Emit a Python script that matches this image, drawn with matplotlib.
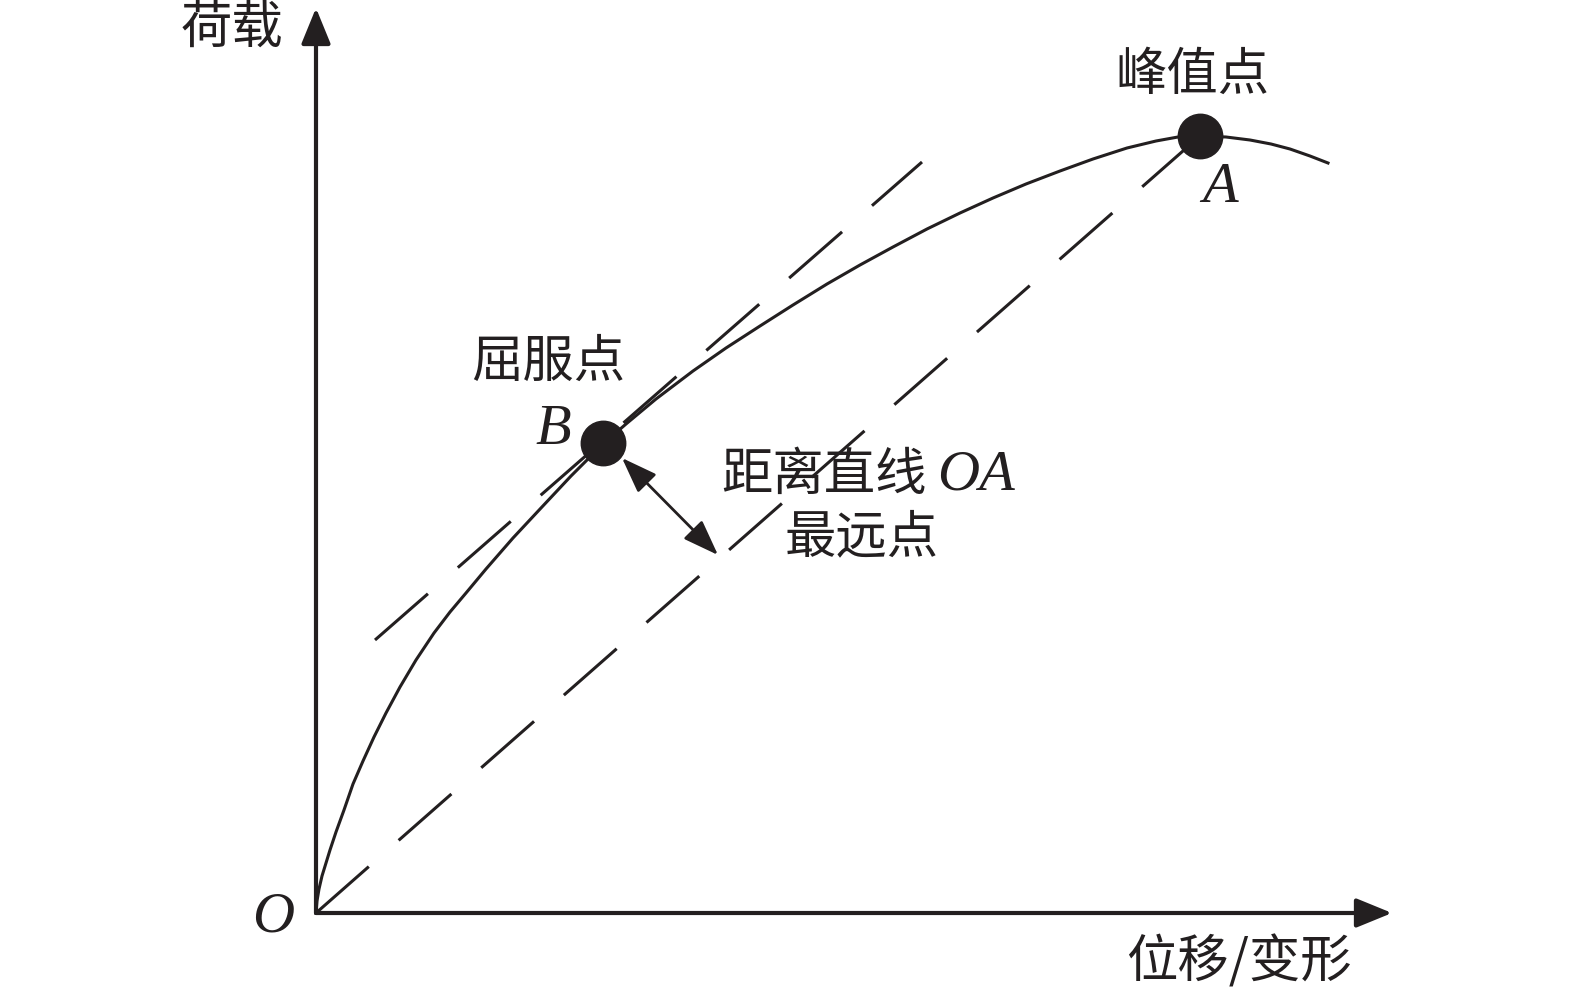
import matplotlib.pyplot as plt

plt.rcParams['font.family'] = ['Noto Sans CJK SC', 'DejaVu Sans']

# load-displacement curve (origin at O, y up, pixel units)
curve_x = [0, 1, 3, 6, 10, 14, 20, 28, 37, 47, 58, 70, 84, 100, 118, 134, 150, 170,
           197, 225, 255, 287, 310, 340, 377, 410, 444, 477, 511, 544, 577, 611, 644,
           677, 710, 744, 777, 811, 840, 862, 884, 910, 934, 955, 974, 994, 1012]
curve_y = [0, 12, 24, 37, 50, 63, 81, 103, 129, 152, 176, 200, 226, 253, 280, 301, 320, 344,
           375, 405, 437, 469, 489, 514, 542, 565, 587, 608, 629, 648, 666, 684, 700,
           715, 729, 742, 754, 765, 772, 776, 777, 776, 773, 769, 764, 757, 750]

pt_A = (884, 777)   # peak point
pt_B = (287, 470)   # yield point
line_OA = ([0, 884], [0, 777])
tangent_B = ([59, 606], [273, 751])
arrow_ends = ((306, 455), (402, 358))

INK = '#231f20'

fig = plt.figure(figsize=(15.75, 9.96), dpi=100)
ax = fig.add_axes([0, 0, 1, 1])
ax.set_xlim(-316, 1259)
ax.set_ylim(-83, 913)
ax.axis('off')

# axes with arrows
head = dict(arrowstyle='-|>,head_length=2.2,head_width=0.9', lw=3, color=INK,
            shrinkA=0, shrinkB=0, mutation_scale=10)
ax.annotate('', xy=(0, 905), xytext=(0, 0), arrowprops=head)
ax.annotate('', xy=(1076, 0), xytext=(0, 0), arrowprops=head)

ax.plot(curve_x, curve_y, color=INK, lw=2.2, solid_joinstyle='round')
ax.plot(*line_OA, color=INK, lw=2.2, dashes=(23, 13))
ax.plot(*tangent_B, color=INK, lw=2.2, dashes=(23, 13))

ax.plot(*pt_A, 'o', color=INK, ms=32, zorder=5)
ax.plot(*pt_B, 'o', color=INK, ms=32, zorder=5)

ax.annotate('', xy=arrow_ends[0], xytext=arrow_ends[1],
            arrowprops=dict(arrowstyle='<|-|>,head_length=2.2,head_width=0.8', lw=2, color=INK,
                            shrinkA=0, shrinkB=0, mutation_scale=10))

cn = dict(fontsize=37, color=INK, ha='center', va='center')
it = dict(fontsize=42, color=INK, family='Liberation Serif', style='italic', va='center')

ax.text(-84, 885, '荷载', **cn)
ax.text(876, 838, '峰值点', **cn)
ax.text(232, 551, '屈服点', **cn)
ax.text(546, 375, '最远点', **cn)
ax.text(611, 438, '距离直线', fontsize=37, color=INK, ha='right', va='center')
ax.text(621, 438, 'OA', ha='left', **it)
ax.text(904, 725, 'A', ha='center', **it)
ax.text(237, 483, 'B', ha='center', **it)
ax.text(-43, -4, 'O', ha='center', **it)
ax.text(923, -50, '位移/变形', **cn)

fig.savefig('out.png', dpi=100)
